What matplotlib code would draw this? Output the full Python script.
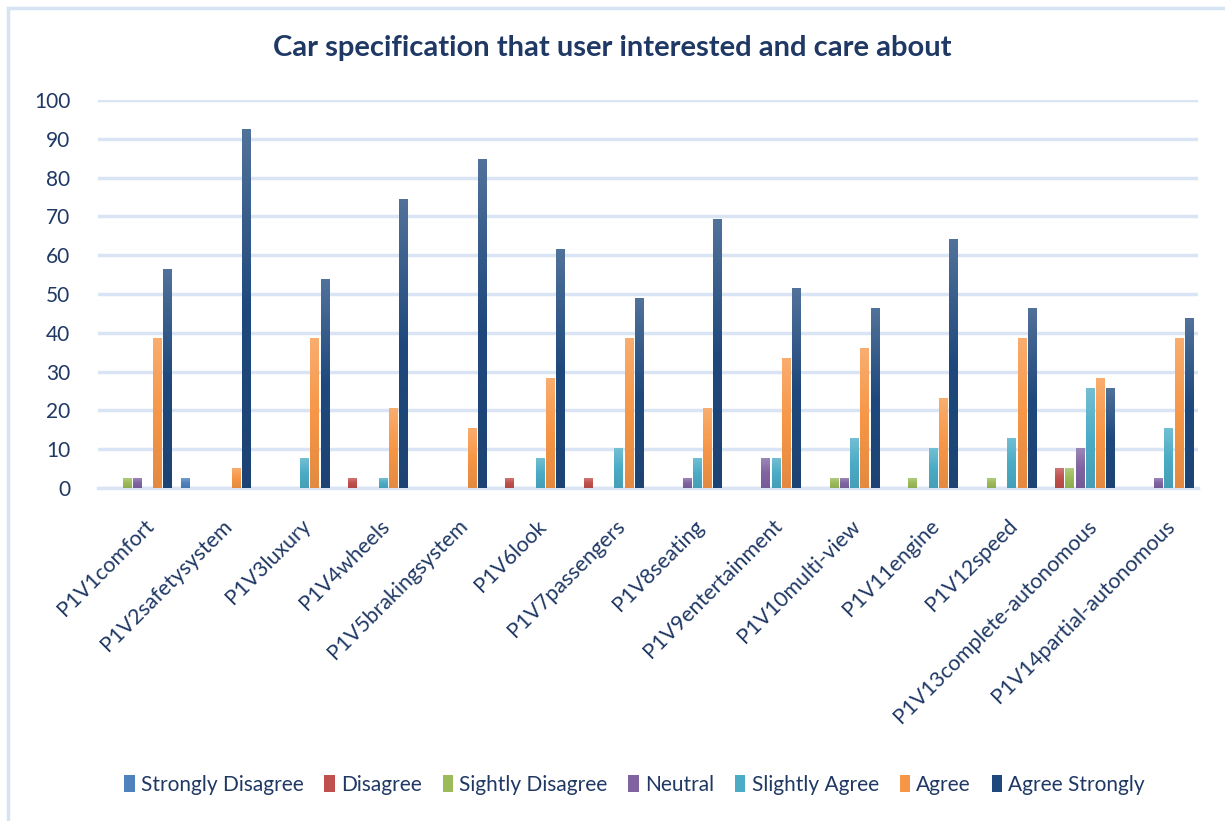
import matplotlib.pyplot as plt
import numpy as np
from matplotlib.colors import LinearSegmentedColormap, to_rgb
from matplotlib.patches import Rectangle
from matplotlib.transforms import ScaledTranslation

# Survey responses (% of respondents) per car specification
categories = ['P1V1comfort', 'P1V2safetysystem', 'P1V3luxury', 'P1V4wheels',
              'P1V5brakingsystem', 'P1V6look', 'P1V7passengers', 'P1V8seating',
              'P1V9entertainment', 'P1V10multi-view', 'P1V11engine', 'P1V12speed',
              'P1V13complete-autonomous', 'P1V14partial-autonomous']
series = ['Strongly Disagree', 'Disagree', 'Sightly Disagree', 'Neutral',
          'Slightly Agree', 'Agree', 'Agree Strongly']

strongly_disagree = [0, 2.56, 0, 0, 0, 0, 0, 0, 0, 0, 0, 0, 0, 0]
disagree = [0, 0, 0, 2.56, 0, 2.56, 2.56, 0, 0, 0, 0, 0, 5.13, 0]
slightly_disagree = [2.56, 0, 0, 0, 0, 0, 0, 0, 0, 2.56, 2.56, 2.56, 5.13, 0]
neutral = [2.56, 0, 0, 0, 0, 0, 0, 2.56, 7.69, 2.56, 0, 0, 10.26, 2.56]
slightly_agree = [0, 0, 7.69, 2.56, 0, 7.69, 10.26, 7.69, 7.69, 12.82, 10.26, 12.82, 25.64, 15.38]
agree = [38.46, 5.13, 38.46, 20.51, 15.38, 28.21, 38.46, 20.51, 33.33, 35.90, 23.08, 38.46, 28.21, 38.46]
agree_strongly = [56.41, 92.31, 53.85, 74.36, 84.62, 61.54, 48.72, 69.23, 51.28, 46.15, 64.10, 46.15, 25.64, 43.59]

values = [strongly_disagree, disagree, slightly_disagree, neutral,
          slightly_agree, agree, agree_strongly]
colors = ['#4F81BD', '#C0504D', '#9BBB59', '#8064A2', '#4BACC6', '#F79646', '#1F497D']

text_color = '#1F3864'
grid_color = '#D9E4F4'
plt.rcParams['font.family'] = ['Lato', 'DejaVu Sans']

fig = plt.figure(figsize=(12.25, 8.21), dpi=100)
ax = fig.add_axes([0.08, 0.4056, 0.898, 0.4727])

# light chart border
fig.patches.append(Rectangle((8 / 1225, -0.1), 1.2, 1 - 8 / 821 + 0.1,
                             transform=fig.transFigure, fill=False,
                             edgecolor='#D6E3F3', linewidth=2.5))

x = np.arange(len(categories))
bar_w = 0.13
handles = []
for i, (name, vals, col) in enumerate(zip(series, values, colors)):
    pos = x + (i - 3) * bar_w
    bars = ax.bar(pos, vals, bar_w * 0.88, color=col, label=name, zorder=3)
    handles.append(bars)
    # vertical gradient, lighter at the top
    base = np.array(to_rgb(col))
    light = base + (1 - base) * 0.22
    dark = base * 0.92
    cmap = LinearSegmentedColormap.from_list(name, [dark, base, light])
    grad = np.linspace(0, 1, 64).reshape(-1, 1)
    for b in bars:
        h = b.get_height()
        if h <= 0:
            continue
        x0 = b.get_x()
        ax.imshow(grad, extent=[x0, x0 + b.get_width(), 0, h], origin='lower',
                  cmap=cmap, aspect='auto', zorder=4, interpolation='bilinear')

ax.set_xlim(-0.5, len(categories) - 0.5)
ax.set_ylim(0, 100)
ax.set_yticks(np.arange(0, 101, 10))
ax.yaxis.grid(True, color=grid_color, linewidth=2.5, zorder=0)
ax.set_axisbelow(True)
for s in ['top', 'right', 'left']:
    ax.spines[s].set_visible(False)
ax.spines['bottom'].set_color(grid_color)
ax.spines['bottom'].set_linewidth(2.5)
ax.tick_params(axis='y', length=0, colors=text_color, labelsize=15, pad=20)
ax.set_xticks(x)
ax.set_xticklabels(categories, rotation=45, ha='right', rotation_mode='anchor',
                   color=text_color, fontsize=15.5)
ax.tick_params(axis='x', length=0, pad=20)
shift = ScaledTranslation(6 / 100, 0, fig.dpi_scale_trans)
for lbl in ax.get_xticklabels():
    lbl.set_transform(lbl.get_transform() + shift)

fig.text(0.5, 0.942, 'Car specification that user interested and care about',
         ha='center', va='center', fontsize=21, fontweight='bold', color=text_color)

fig.legend(handles, series, loc='center', bbox_to_anchor=(0.518, 0.044), ncol=7,
           frameon=False, fontsize=15, handlelength=0.5, handleheight=0.9,
           handletextpad=0.3, columnspacing=1.0, labelcolor=text_color)

fig.savefig('out.png', dpi=100)
